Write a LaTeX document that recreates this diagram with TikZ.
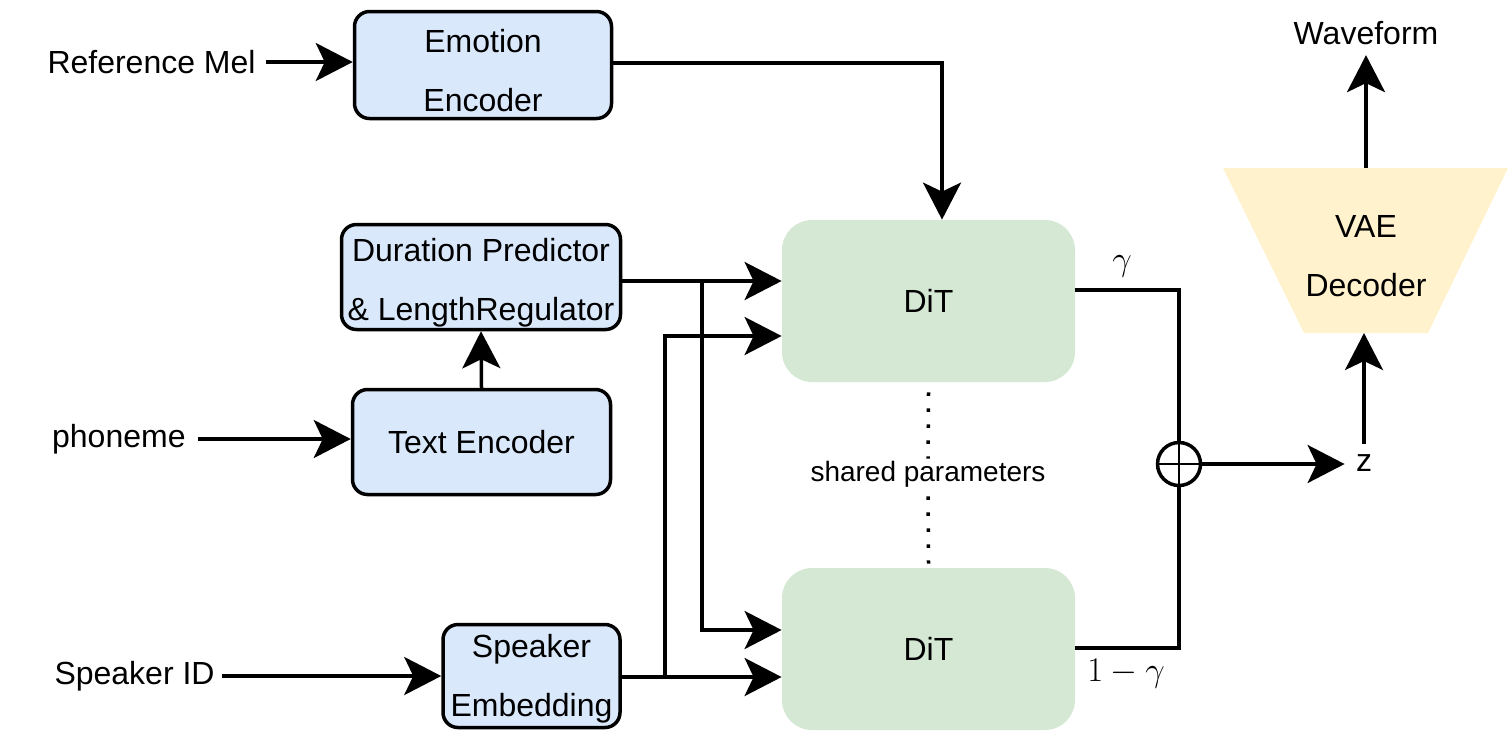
\documentclass[tikz,border=0pt]{standalone}
\usepackage{fontspec}
\setmainfont{Liberation Sans}
\usetikzlibrary{arrows.meta,calc}
\definecolor{bluefill}{HTML}{DAE8FC}
\definecolor{greenfill}{HTML}{D5E8D4}
\definecolor{yellowfill}{HTML}{FFF2CC}
\begin{document}
\begin{tikzpicture}[x=0.5pt,y=-0.5pt,
  conn/.style={line width=1.75pt},
  arr/.style={conn,-{Stealth[length=18.5pt,width=19pt,inset=4.5pt]}},
  dotline/.style={line width=1.75pt,dash pattern=on 1.75pt off 6.25pt},
  bluebox/.style={draw,line width=1.75pt,rounded corners=7.5pt,fill=bluefill,inner sep=0pt},
  ditbox/.style={fill=greenfill,rounded corners=15pt,minimum width=146.5pt,minimum height=81pt,inner sep=0pt,font=\fontsize{16}{19}\selectfont},
  lbl/.style={inner sep=0pt,font=\fontsize{16}{19}\selectfont},
  mlbl/.style={inner sep=0pt,align=center,font=\fontsize{16}{29.5}\selectfont},
]
\useasboundingbox (0,0) rectangle (1508,736);

% blue boxes
\node[bluebox,minimum width=128.5pt,minimum height=53.5pt] (emo) at (483,65) {};
\node[mlbl] (emotxt) at (483,71) {Emotion\\Encoder};
\node[bluebox,minimum width=139.5pt,minimum height=52.5pt] (dur) at (481,277) {};
\node[mlbl] (durtxt) at (481,283) {Duration Predictor\\\& LengthRegulator};
\node[bluebox,minimum width=129pt,minimum height=52.5pt,font=\fontsize{16}{19}\selectfont] (te) at (481.5,442) {Text Encoder};
\node[bluebox,minimum width=88.5pt,minimum height=51.5pt] (spk) at (531.5,676) {};
\node[mlbl] (spktxt) at (531.5,679) {Speaker\\Embedding};

% DiT boxes
\node[ditbox] (dit1) at (928.5,301) {DiT};
\node[ditbox] (dit2) at (928.5,649) {DiT};

% VAE decoder
\fill[yellowfill] (1223,168) -- (1508,168) -- (1428,333) -- (1304,333) -- cycle;
\coordinate (vaetop) at (1366,168);
\coordinate (vaebot) at (1366,333);
\node[mlbl] (vae) at (1366,256) {VAE\\Decoder};

% input labels
\node[lbl,anchor=east] (refmel) at (256,62) {Reference Mel};
\node[lbl,anchor=east] (phon) at (186,439) {phoneme};
\node[lbl,anchor=east] (spkid) at (215,676) {Speaker ID};

% output labels
\node[lbl] (wave) at (1366,33) {Waveform};
\node[lbl] (z) at (1364,463) {z};
\node[lbl] (g1) at (1122,266) {$\gamma$};
\node[lbl] (g2) at (1126,674) {$1-\gamma$};
\node[inner sep=0pt,font=\fontsize{14}{17}\selectfont] (shared) at (928,474) {shared parameters};

% sum
\node[draw,circle,line width=1.75pt,minimum size=21.5pt,inner sep=0pt] (sum) at (1179,464) {};
\draw[line width=1pt] (sum.north) -- (sum.south) (sum.west) -- (sum.east);

% input arrows
\draw[arr] ([xshift=5pt]refmel.east) -- (refmel.east -| emo.west);
\draw[arr] ([xshift=6pt]phon.east) -- (phon.east -| te.west);
\draw[arr] ([xshift=3.5pt]spkid.east) -- (spkid.east -| spk.west);
\draw[arr] (te.north) -- (dur.south);

% emotion to DiT
\draw[arr] ([yshift=1pt]emo.east) -| ([xshift=6.75pt]dit1.north);

% duration to DiTs
\coordinate (j1) at (702,281);
\draw[arr] ([yshift=-2pt]dur.east) -- ([yshift=-2pt]dur.east -| dit1.west);
\draw[arr] (j1) |- (dit2.west |- 0,630);

% speaker to DiTs
\coordinate (j2) at (665,677);
\draw[arr] ([yshift=-0.5pt]spk.east) -- ([yshift=-0.5pt]spk.east -| dit2.west);
\draw[arr] (j2) |- (dit1.west |- 0,336);

% shared parameters dotted line
\draw[dotline] ([yshift=-5pt]dit1.south) -- ([yshift=1pt]shared.north);
\draw[dotline] ([yshift=-4.5pt]shared.south) -- ([yshift=2pt]dit2.north);

% mixing
\draw[conn] (dit1.east |- 0,290) -| (sum.north);
\draw[conn] (dit2.east |- 0,648) -| (sum.south);
\draw[arr] (sum.east) -- ([xshift=-5.5pt]z.west |- sum.east);
\draw[arr] ([yshift=5pt]z.north) -- (z.north |- vaebot);
\draw[arr] (vaetop) -- ([yshift=-5pt]wave.south);
\end{tikzpicture}
\end{document}
